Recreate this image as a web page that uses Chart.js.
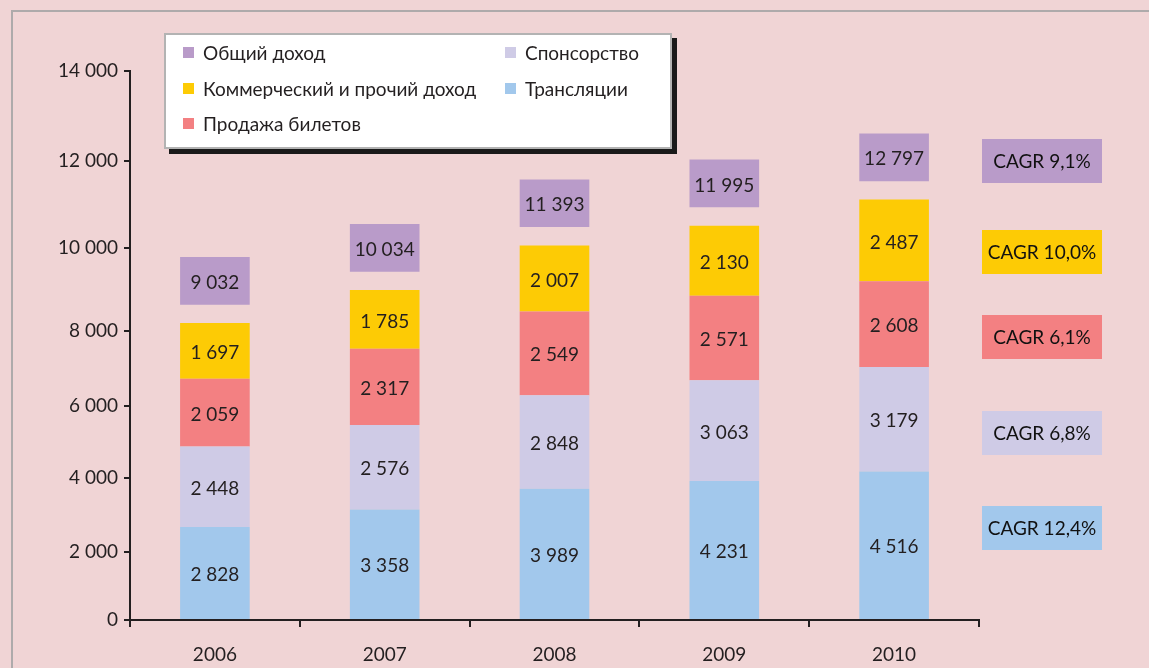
<!DOCTYPE html>
<html>
<head>
<meta charset="utf-8">
<script src="https://cdn.jsdelivr.net/npm/chart.js@4.4.0/dist/chart.umd.min.js"></script>
<style>
  html, body { margin: 0; padding: 0; background: #f0d4d5; overflow: hidden; }
  #wrap { position: relative; width: 1149px; height: 668px; }
  #frame { position: absolute; left: 11px; top: 10px; width: 1200px; height: 700px;
           border-top: 2px solid #aeaaab; border-left: 2px solid #aeaaab; }
  #revenueChart { position: absolute; left: 0; top: 0; }
  #legend { position: absolute; left: 164px; top: 33px; width: 504px; height: 112px;
            background: #fff; border: 2px solid #b3b3b3; box-shadow: 5px 5px 0 #1a1a1a;
            display: grid; grid-template-columns: 322px auto; grid-template-rows: repeat(3, 35.5px);
            grid-auto-flow: column; font: 19px Lato, "Open Sans", sans-serif; color: #231f20; }
  .item { display: flex; align-items: center; padding-left: 17px; white-space: nowrap; }
  .sw { width: 11px; height: 11px; margin-right: 9px; flex: none; }
</style>
</head>
<body>
<div id="wrap">
  <div id="frame"></div>
  <canvas id="revenueChart" width="1149" height="668"></canvas>
  <div id="legend"></div>
</div>
<script>
const years = ['2006', '2007', '2008', '2009', '2010']
const broadcast = [2828, 3358, 3989, 4231, 4516]
const sponsorship = [2448, 2576, 2848, 3063, 3179]
const tickets = [2059, 2317, 2549, 2571, 2608]
const commercial = [1697, 1785, 2007, 2130, 2487]
const total = [9032, 10034, 11393, 11995, 12797]

const yTickLabels = ['0', '2 000', '4 000', '6 000', '8 000', '10 000', '12 000', '14 000']
// the source axis is not drawn to scale: value under each label on the bar scale
const yTickAt = [0, 2068, 4319, 6510, 8791, 11316, 13962, 16700]

const cagrLabels = ['CAGR 9,1%', 'CAGR 10,0%', 'CAGR 6,1%', 'CAGR 6,8%', 'CAGR 12,4%']

const PURPLE = '#b99bc9'
const YELLOW = '#fdcb05'
const RED = '#f38082'
const LAVENDER = '#cfcbe6'
const BLUE = '#a2c8ec'
const INK = '#231f20'
const FONT = 'Lato, "Open Sans", sans-serif'

const fmt = (v) => String(v).replace(/\B(?=(\d{3})+(?!\d))/g, ' ')

// the total sits as a box floating just above each stack
const stackTop = years.map((_, i) => broadcast[i] + sponsorship[i] + tickets[i] + commercial[i])
const totalBoxes = stackTop.map(t => [t + 560, t + 560 + 1450])

const barLabels = {
    id: 'barLabels',
    afterDatasetsDraw(chart) {
        const ctx = chart.ctx
        ctx.save()
        ctx.font = '19px ' + FONT
        ctx.fillStyle = INK
        ctx.textAlign = 'center'
        ctx.textBaseline = 'middle'
        chart.data.datasets.forEach((ds, di) => {
            chart.getDatasetMeta(di).data.forEach((bar, i) => {
                const p = bar.getCenterPoint()
                ctx.fillText(fmt(ds.values[i]), p.x, p.y + 2)
            })
        })
        ctx.restore()
    }
}

const cagrBoxes = {
    id: 'cagrBoxes',
    afterDraw(chart, args, opts) {
        const ctx = chart.ctx
        const x = chart.chartArea.right + 3
        ctx.save()
        ctx.font = '19px ' + FONT
        ctx.textAlign = 'center'
        ctx.textBaseline = 'middle'
        cagrLabels.forEach((txt, i) => {
            const cy = opts.centers[i]
            ctx.fillStyle = opts.colors[i]
            ctx.fillRect(x, cy - 22, 120, 44)
            ctx.fillStyle = '#111'
            ctx.fillText(txt, x + 60, cy + 1)
        })
        ctx.restore()
    }
}

const ctx = document.getElementById('revenueChart').getContext('2d')

const chart = new Chart(ctx, {
    type: 'bar',
    data: {
        labels: years,
        datasets: [
            { label: 'Трансляции', data: broadcast, values: broadcast, backgroundColor: BLUE, stack: 'parts' },
            { label: 'Спонсорство', data: sponsorship, values: sponsorship, backgroundColor: LAVENDER, stack: 'parts' },
            { label: 'Продажа билетов', data: tickets, values: tickets, backgroundColor: RED, stack: 'parts' },
            { label: 'Коммерческий и прочий доход', data: commercial, values: commercial, backgroundColor: YELLOW, stack: 'parts' },
            { label: 'Общий доход', data: totalBoxes, values: total, backgroundColor: PURPLE, stack: 'total', grouped: false }
        ]
    },
    options: {
        responsive: false,
        animation: false,
        layout: { padding: { top: 71, right: 170, bottom: 0, left: 0 } },
        datasets: { bar: { barPercentage: 0.41, categoryPercentage: 1 } },
        plugins: {
            legend: { display: false },
            tooltip: { enabled: false },
            cagrBoxes: {
                centers: [161, 252, 337, 433, 528],
                colors: [PURPLE, YELLOW, RED, LAVENDER, BLUE]
            }
        },
        scales: {
            x: {
                stacked: true,
                afterFit: (s) => { s.height = 48 },
                grid: { offset: true, drawOnChartArea: false, tickLength: 7, color: INK, lineWidth: 2 },
                border: { color: INK, width: 2 },
                ticks: { color: INK, font: { family: FONT, size: 19 }, padding: 16 }
            },
            y: {
                stacked: true,
                min: 0,
                max: 16700,
                afterFit: (s) => { s.width = 130 },
                afterBuildTicks: (s) => { s.ticks = yTickAt.map(v => ({ value: v })) },
                grid: { drawOnChartArea: false, tickLength: 6, color: INK, lineWidth: 2 },
                border: { color: INK, width: 2 },
                ticks: {
                    autoSkip: false,
                    color: INK,
                    font: { family: FONT, size: 19 },
                    padding: 6,
                    callback: (v, i) => yTickLabels[i]
                }
            }
        }
    },
    plugins: [barLabels, cagrBoxes]
})

// legend in the source's order: column by column, three rows
const legendOrder = ['Общий доход', 'Коммерческий и прочий доход', 'Продажа билетов', 'Спонсорство', 'Трансляции']
const legendEl = document.getElementById('legend')
legendOrder.forEach(name => {
    const ds = chart.data.datasets.find(d => d.label === name)
    const item = document.createElement('div')
    item.className = 'item'
    const sw = document.createElement('span')
    sw.className = 'sw'
    sw.style.background = ds.backgroundColor
    const txt = document.createElement('span')
    txt.textContent = ds.label
    item.appendChild(sw)
    item.appendChild(txt)
    legendEl.appendChild(item)
})
</script>
</body>
</html>
